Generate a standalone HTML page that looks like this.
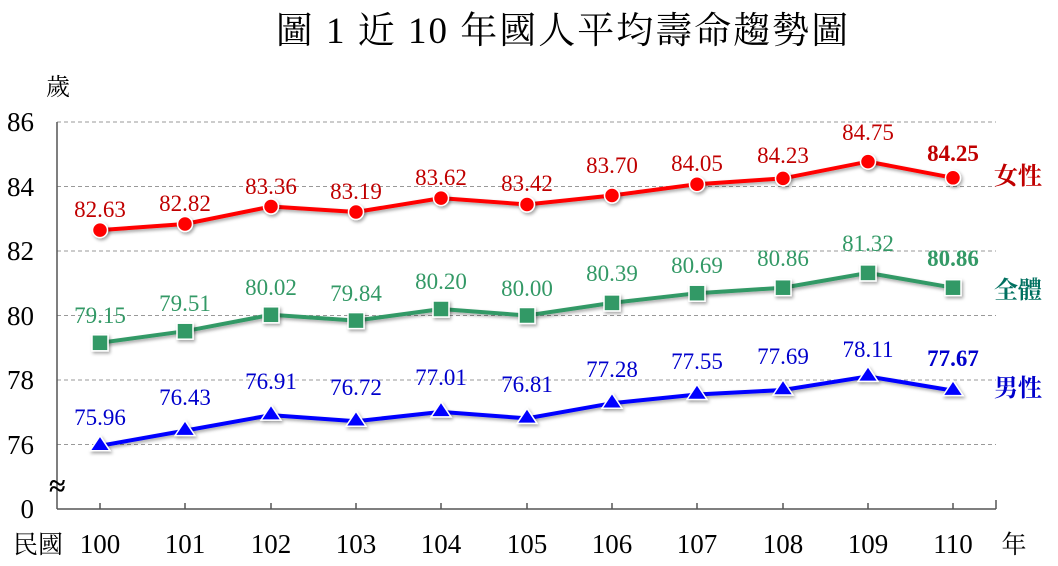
<!DOCTYPE html>
<html><head><meta charset="utf-8"><style>
html,body{margin:0;padding:0;background:#fff;}
svg{display:block;}
text{font-family:"Liberation Serif","Noto Serif CJK SC",serif;}
</style></head><body>
<svg width="1058" height="566" viewBox="0 0 1058 566" xmlns="http://www.w3.org/2000/svg">
<defs><filter id="sh" x="-50%" y="-50%" width="200%" height="200%"><feDropShadow dx="1.5" dy="2" stdDeviation="1.5" flood-color="#000" flood-opacity="0.35"/></filter></defs>
<text x="563" y="43" font-size="37" letter-spacing="2" text-anchor="middle" fill="#000">圖 1  近 10 年國人平均壽命趨勢圖</text>
<text x="58" y="95" font-size="24" text-anchor="middle">歲</text>
<g stroke="#999" stroke-dasharray="4,3" stroke-width="1">
<line x1="57" y1="122" x2="996" y2="122"/><line x1="57" y1="186.5" x2="996" y2="186.5"/>
<line x1="57" y1="251" x2="996" y2="251"/><line x1="57" y1="315.5" x2="996" y2="315.5"/>
<line x1="57" y1="380" x2="996" y2="380"/><line x1="57" y1="444.5" x2="996" y2="444.5"/>
</g>
<g stroke="#555" stroke-width="1.5" fill="none">
<line x1="57" y1="122" x2="57" y2="509"/><line x1="57" y1="509" x2="996" y2="509"/>
<line x1="996" y1="500" x2="996" y2="509"/>
<line x1="100" y1="503" x2="100" y2="509"/><line x1="185" y1="503" x2="185" y2="509"/><line x1="271" y1="503" x2="271" y2="509"/><line x1="356" y1="503" x2="356" y2="509"/><line x1="441" y1="503" x2="441" y2="509"/><line x1="527" y1="503" x2="527" y2="509"/><line x1="612" y1="503" x2="612" y2="509"/><line x1="697" y1="503" x2="697" y2="509"/><line x1="783" y1="503" x2="783" y2="509"/><line x1="868" y1="503" x2="868" y2="509"/><line x1="953" y1="503" x2="953" y2="509"/>
</g>
<g font-size="27" text-anchor="end" fill="#000">
<text x="34" y="131">86</text><text x="34" y="196">84</text><text x="34" y="260">82</text><text x="34" y="325">80</text><text x="34" y="389">78</text><text x="34" y="454">76</text><text x="34" y="518">0</text>
</g>
<text x="49" y="496" font-size="30" font-weight="bold" text-anchor="start" fill="#000">≈</text>
<g font-size="27" text-anchor="middle" fill="#000">
<text x="38" y="553" font-size="25">民國</text>
<text x="100" y="553">100</text><text x="185" y="553">101</text><text x="271" y="553">102</text><text x="356" y="553">103</text><text x="441" y="553">104</text><text x="527" y="553">105</text><text x="612" y="553">106</text><text x="697" y="553">107</text><text x="783" y="553">108</text><text x="868" y="553">109</text><text x="953" y="553">110</text>
<text x="1014" y="553" font-size="25">年</text>
</g>
<!-- female -->
<polyline filter="url(#sh)" fill="none" stroke="#f00" stroke-width="4" points="100,230.1 185,224.0 271,206.5 356,212.0 441,198.1 527,204.5 612,195.5 697,184.2 783,178.4 868,161.6 953,177.8"/>
<g fill="#f00" stroke="#fff" stroke-width="1.5" filter="url(#sh)">
<circle cx="100" cy="230.1" r="7.5"/><circle cx="185" cy="224.0" r="7.5"/><circle cx="271" cy="206.5" r="7.5"/><circle cx="356" cy="212.0" r="7.5"/><circle cx="441" cy="198.1" r="7.5"/><circle cx="527" cy="204.5" r="7.5"/><circle cx="612" cy="195.5" r="7.5"/><circle cx="697" cy="184.2" r="7.5"/><circle cx="783" cy="178.4" r="7.5"/><circle cx="868" cy="161.6" r="7.5"/><circle cx="953" cy="177.8" r="7.5"/>
</g>
<g font-size="23" fill="#c00000" text-anchor="middle">
<text x="100" y="217">82.63</text><text x="185" y="211">82.82</text><text x="271" y="194">83.36</text><text x="356" y="199">83.19</text><text x="441" y="185">83.62</text><text x="527" y="191">83.42</text><text x="612" y="173">83.70</text><text x="697" y="171">84.05</text><text x="783" y="163">84.23</text><text x="868" y="140">84.75</text><text x="953" y="161" font-weight="bold">84.25</text>
</g>
<text x="994" y="184" font-size="24" font-weight="bold" fill="#c00000">女性</text>
<!-- total -->
<polyline filter="url(#sh)" fill="none" stroke="#339966" stroke-width="4" points="100,342.8 185,331.2 271,314.8 356,320.6 441,309.0 527,315.5 612,302.9 697,293.2 783,287.7 868,272.9 953,287.7"/>
<g fill="#339966" stroke="#fff" stroke-width="1.5" filter="url(#sh)">
<rect x="92" y="334.8" width="16" height="16"/><rect x="177" y="323.2" width="16" height="16"/><rect x="263" y="306.8" width="16" height="16"/><rect x="348" y="312.6" width="16" height="16"/><rect x="433" y="301" width="16" height="16"/><rect x="519" y="307.5" width="16" height="16"/><rect x="604" y="294.9" width="16" height="16"/><rect x="689" y="285.2" width="16" height="16"/><rect x="775" y="279.7" width="16" height="16"/><rect x="860" y="264.9" width="16" height="16"/><rect x="945" y="279.7" width="16" height="16"/>
</g>
<g font-size="23" fill="#339966" text-anchor="middle">
<text x="100" y="323">79.15</text><text x="185" y="311">79.51</text><text x="271" y="295">80.02</text><text x="356" y="301">79.84</text><text x="441" y="289">80.20</text><text x="527" y="296">80.00</text><text x="612" y="281">80.39</text><text x="697" y="273">80.69</text><text x="783" y="266">80.86</text><text x="868" y="251">81.32</text><text x="953" y="266" font-weight="bold">80.86</text>
</g>
<text x="994" y="298" font-size="24" font-weight="bold" fill="#007060">全體</text>
<!-- male -->
<polyline filter="url(#sh)" fill="none" stroke="#0000ff" stroke-width="4" points="100,445.8 185,430.6 271,415.1 356,421.2 441,411.9 527,418.4 612,403.2 697,394.5 783,390.0 868,376.4 953,390.6"/>
<g fill="#0000ff" stroke="#fff" stroke-width="1.5" filter="url(#sh)">
<path d="M100,435.8 l10,15 h-20z"/><path d="M185,420.6 l10,15 h-20z"/><path d="M271,405.1 l10,15 h-20z"/><path d="M356,411.2 l10,15 h-20z"/><path d="M441,401.9 l10,15 h-20z"/><path d="M527,408.4 l10,15 h-20z"/><path d="M612,393.2 l10,15 h-20z"/><path d="M697,384.5 l10,15 h-20z"/><path d="M783,380 l10,15 h-20z"/><path d="M868,366.4 l10,15 h-20z"/><path d="M953,380.6 l10,15 h-20z"/>
</g>
<g font-size="23" fill="#0000cc" text-anchor="middle">
<text x="100" y="425">75.96</text><text x="185" y="405">76.43</text><text x="271" y="389">76.91</text><text x="356" y="395">76.72</text><text x="441" y="385">77.01</text><text x="527" y="392">76.81</text><text x="612" y="377">77.28</text><text x="697" y="369">77.55</text><text x="783" y="364">77.69</text><text x="868" y="357">78.11</text><text x="953" y="366" font-weight="bold">77.67</text>
</g>
<text x="994" y="396" font-size="24" font-weight="bold" fill="#0000cc">男性</text>
</svg>
</body></html>
